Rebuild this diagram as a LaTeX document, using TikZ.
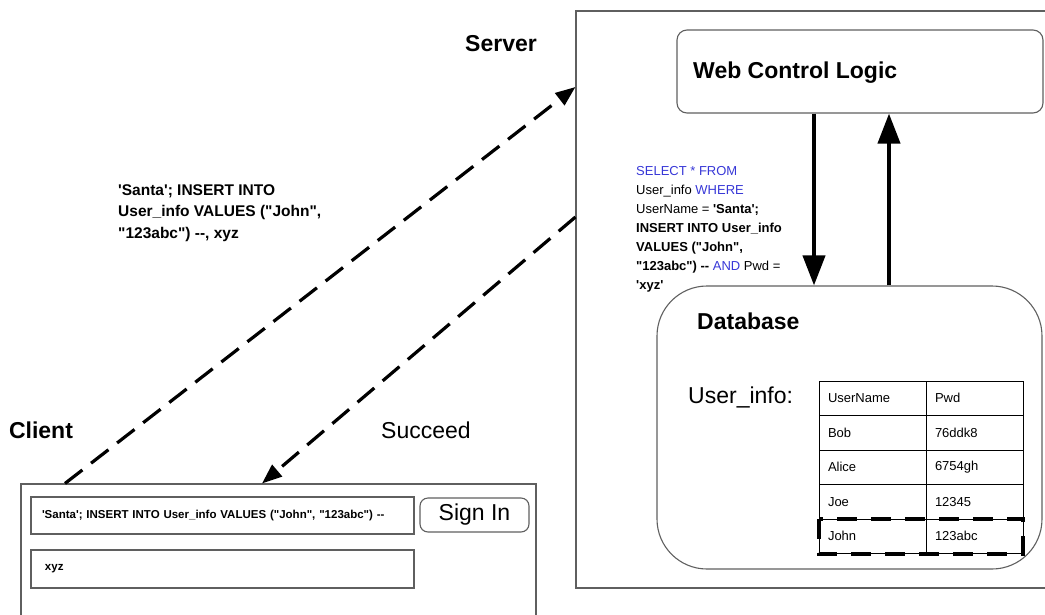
\documentclass[tikz,border=0pt]{standalone}
\usepackage{fontspec}
\setmainfont{Liberation Sans}[Ligatures=TeXOff]
\usetikzlibrary{arrows.meta,positioning}
\definecolor{sqlblue}{RGB}{55,55,215}
\definecolor{linegray}{RGB}{95,95,95}
\begin{document}
\begin{tikzpicture}[x=1pt,y=-1pt,
	frame/.style={draw=linegray,line width=1.1pt,inner sep=0pt},
	title/.style={font=\fontsize{23}{27}\selectfont\bfseries,inner sep=0pt},
	plain/.style={font=\fontsize{23}{27}\selectfont,inner sep=0pt},
	cell/.style={draw,line width=.8pt,minimum height=34.5pt,inner ysep=0pt,inner xsep=9pt,align=left,font=\fontsize{13}{15}\selectfont},
	field/.style={frame,minimum width=383pt,align=left,font=\fontsize{11.5}{14}\selectfont\bfseries},
	bigarrow/.style={line width=4pt,-{Triangle[length=30pt,width=22pt]}},
	req/.style={line width=3.2pt,dash pattern=on 22pt off 11pt,-{Triangle[length=20pt,width=15pt]}},
	johnbox/.style={line width=4pt,dash pattern=on 20pt off 14pt}]
	\useasboundingbox (0,0) rectangle (1045,614);
	% server side
	\node[frame,minimum width=504pt,minimum height=577pt] (srv) at (828,299.5) {};
	\node[title] (srvlab) at (501,44) {Server};
	\node[frame,rounded corners=10pt,minimum width=366pt,minimum height=83pt] (wcl) at (860,71.5) {};
	\node[title,anchor=west] (wcllab) at (693,73) {Web Control Logic};
	\node[frame,rounded corners=50pt,minimum width=385pt,minimum height=283pt] (db) at (849.5,427.5) {};
	\node[title,anchor=west] (dblab) at (697,321) {Database};
	\node[plain,anchor=west] (tablab) at (688,397) {User\_info:};
	\foreach \nm/\pw [count=\i] in {UserName/Pwd,Bob/76ddk8,Alice/6754gh,Joe/12345,John/123abc}{
		\node[cell,minimum width=107pt,text width=89pt] (nm\i) at (872.5,{381+34.5*(\i-0.5)}) {\nm};
		\node[cell,minimum width=97pt,text width=79pt] (pw\i) at (974.5,{381+34.5*(\i-0.5)}) {\pw};
	}
	\draw[johnbox] (nm5.north west) rectangle (pw5.south east);
	\coordinate (dn) at (814,0);
	\coordinate (up) at (889,0);
	\draw[bigarrow] (dn |- wcl.south) -- (dn |- db.north);
	\draw[bigarrow] (up |- db.north) -- (up |- wcl.south);
	\node[anchor=north west,inner sep=0pt,align=left,font=\fontsize{13}{19}\selectfont] (sql) at (636,166)
		{\textcolor{sqlblue}{SELECT * FROM}\\
		User\_info \textcolor{sqlblue}{WHERE}\\
		UserName = \textbf{'Santa';}\\
		\textbf{INSERT INTO User\_info}\\
		\textbf{VALUES ("John",}\\
		\textbf{"123abc") --} \textcolor{sqlblue}{AND} Pwd =\\
		\textbf{'xyz'}};
	% client side
	\node[title] (cllab) at (41,430) {Client};
	\node[frame,minimum width=515pt,minimum height=160pt] (cl) at (278.5,564) {};
	\node[field,minimum height=37pt,inner xsep=11pt,text width=361pt] (f1) at (222.5,515.5)
		{'Santa'; INSERT INTO User\_info VALUES ("John", "123abc") --};
	\node[field,minimum height=38pt,inner xsep=14pt,text width=355pt] (f2) at (222.5,569) {xyz};
	\node[frame,rounded corners=8pt,minimum width=109pt,minimum height=34pt,font=\fontsize{23}{27}\selectfont] (btn) at (474.5,515) {Sign In};
	\node[plain] (ok) at (426,430) {Succeed};
	\node[anchor=north west,inner sep=0pt,align=left,font=\fontsize{15.5}{21.5}\selectfont\bfseries] (req) at (118,184)
		{'Santa'; INSERT INTO\\ User\_info VALUES ("John",\\ "123abc") --, xyz};
	% requests
	\coordinate (sa) at (65,0);
	\coordinate (sb) at (0,87);
	\coordinate (ra) at (262,0);
	\coordinate (rb) at (0,217);
	\draw[req] (sa |- cl.north) -- (srv.west |- sb);
	\draw[req] (srv.west |- rb) -- (ra |- cl.north);
\end{tikzpicture}
\end{document}
